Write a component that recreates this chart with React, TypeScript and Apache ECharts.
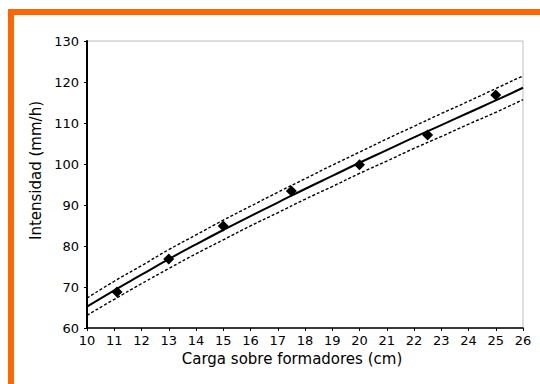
import React, { useEffect, useRef } from "react";
import * as echarts from "echarts";

const xValues = [10, 11, 12, 13, 14, 15, 16, 17, 18, 19, 20, 21, 22, 23, 24, 25, 26];
const fitValues = [65.2, 69.2, 73.0, 76.8, 80.4, 83.9, 87.3, 90.6, 93.9, 97.1, 100.3, 103.4, 106.5, 109.5, 112.5, 115.5, 118.6];
const upperValues = [67.3, 71.4, 75.2, 79.1, 82.7, 86.3, 89.7, 93.1, 96.4, 99.7, 102.9, 106.1, 109.2, 112.3, 115.3, 118.4, 121.5];
const lowerValues = [63.1, 67.0, 70.8, 74.5, 78.1, 81.5, 84.9, 88.1, 91.4, 94.5, 97.7, 100.7, 103.8, 106.7, 109.7, 112.6, 115.7];
const obsX = [11.1, 13, 15, 17.5, 20, 22.5, 25];
const obsY = [68.8, 76.8, 84.9, 93.4, 99.8, 107.1, 116.8];

const xTitle = "Carga sobre formadores (cm)";
const yTitle = "Intensidad (mm/h)";

export default function App() {
  const ref = useRef<HTMLDivElement>(null);
  useEffect(() => {
    if (!ref.current) return;
    const chart = echarts.init(ref.current, null, { renderer: "svg" });
    const font = "DejaVu Sans";
    const pairs = (ys: number[]) => xValues.map((x, i) => [x, ys[i]]);
    chart.setOption({
      animation: false,
      backgroundColor: "#ffffff",
      textStyle: { fontFamily: font },
      graphic: [
        { type: "rect", shape: { x: 8, y: 9, width: 532, height: 6 }, style: { fill: "#FF6600" }, silent: true },
        { type: "rect", shape: { x: 8, y: 9, width: 6, height: 375 }, style: { fill: "#FF6600" }, silent: true },
      ],
      grid: {
        left: 87,
        top: 41,
        right: 17,
        bottom: 56,
        show: true,
        borderColor: "#bdbdbd",
        borderWidth: 1,
        backgroundColor: "#ffffff",
      },
      xAxis: {
        type: "value",
        min: 10,
        max: 26,
        interval: 1,
        name: xTitle,
        nameLocation: "middle",
        nameGap: 23,
        nameTextStyle: { fontSize: 15, color: "#000", fontFamily: font, padding: [0, 26, 0, 0] },
        axisLine: { show: true, lineStyle: { color: "#000", width: 1.5 } },
        axisTick: { show: true, inside: false, length: 3, lineStyle: { color: "#000" } },
        axisLabel: { fontSize: 13, color: "#000", margin: 6, fontFamily: font },
        splitLine: { show: false },
      },
      yAxis: {
        type: "value",
        min: 60,
        max: 130,
        interval: 10,
        name: yTitle,
        nameLocation: "middle",
        nameGap: 43,
        nameTextStyle: { fontSize: 15, color: "#000", fontFamily: font, padding: [0, 0, 0, 28] },
        axisLine: { show: true, lineStyle: { color: "#000", width: 2 } },
        axisTick: { show: true, inside: false, length: 3, lineStyle: { color: "#000" } },
        axisLabel: { fontSize: 13, color: "#000", margin: 8, fontFamily: font },
        splitLine: { show: false },
      },
      series: [
        {
          type: "line",
          data: pairs(upperValues),
          showSymbol: false,
          smooth: true,
          lineStyle: { color: "#000", width: 1.4, type: [3, 2] },
          z: 2,
        },
        {
          type: "line",
          data: pairs(lowerValues),
          showSymbol: false,
          smooth: true,
          lineStyle: { color: "#000", width: 1.4, type: [3, 2] },
          z: 2,
        },
        {
          type: "line",
          data: pairs(fitValues),
          showSymbol: false,
          smooth: true,
          lineStyle: { color: "#000", width: 2 },
          z: 3,
        },
        {
          type: "scatter",
          data: obsX.map((x, i) => [x, obsY[i]]),
          symbol: "diamond",
          symbolSize: 11,
          itemStyle: { color: "#000", opacity: 1 },
          z: 4,
        },
      ],
    });
    return () => chart.dispose();
  }, []);
  return (
    <div
      ref={ref}
      style={{ position: "fixed", left: 0, top: 0, width: 540, height: 384 }}
    />
  );
}
